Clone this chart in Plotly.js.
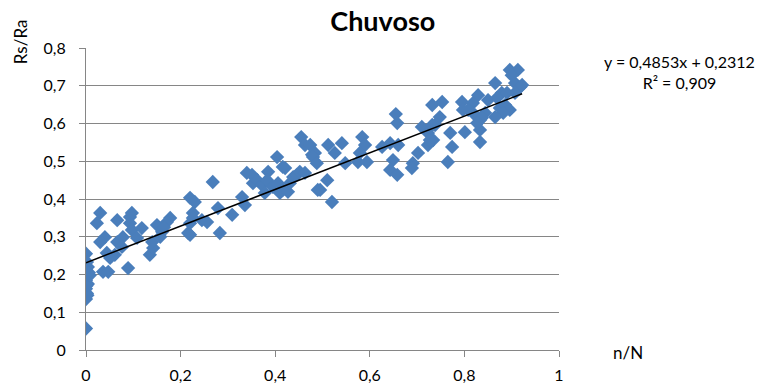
<!DOCTYPE html>
<html>
<head>
<meta charset="utf-8">
<script src="https://cdn.plot.ly/plotly-3.0.1.min.js"></script>
<style>html,body{margin:0;padding:0;background:#fff;}#chart{width:761px;height:385px;}</style>
</head>
<body>
<div id="chart"></div>
<script>
// n/N values
const nN = [
  0.000,0.000,0.002,0.000,0.004,0.000,0.008,0.000,0.004,0.000,0.002,0.006,0.001,0.003,
  0.036,0.047,0.030,0.023,0.040,0.030,0.044,0.066,0.066,0.061,0.078,0.076,0.093,0.093,0.089,0.097,
  0.108,0.118,0.135,0.142,0.140,0.150,0.161,0.178,0.171,0.051,0.097,0.157,0.165,
  0.220,0.230,0.226,0.216,0.220,0.226,0.245,0.256,0.220,0.268,0.283,0.309,0.279,
  0.330,0.336,0.340,0.351,0.353,0.362,0.372,0.385,0.383,0.378,0.395,0.406,0.410,0.421,0.416,
  0.427,0.431,0.438,0.446,0.452,0.463,0.478,0.484,0.490,0.404,0.416,
  0.455,0.463,0.474,0.480,0.488,0.512,0.541,0.526,0.548,0.584,0.590,0.579,0.575,0.594,
  0.510,0.495,0.520,0.626,0.643,0.660,0.649,0.643,0.658,0.691,0.689,0.702,0.710,0.723,
  0.734,0.723,0.738,0.658,0.655,
  0.765,0.770,0.774,0.801,0.795,0.797,0.753,0.748,0.732,0.732,0.727,0.829,0.833,0.833,
  0.833,0.844,0.865,0.850,0.869,0.879,0.875,0.886,0.896,0.896,0.913,0.907,0.918,0.907,
  0.890,0.822,0.818,0.808,0.837,0.882,0.865,0.827,0.922,0.900
];
// Rs/Ra values
const rsRa = [
  0.057,0.135,0.150,0.162,0.175,0.185,0.198,0.212,0.220,0.255,0.233,0.205,0.170,0.145,
  0.207,0.207,0.363,0.336,0.299,0.286,0.257,0.344,0.286,0.252,0.299,0.273,0.352,0.336,0.217,0.318,
  0.297,0.323,0.252,0.270,0.286,0.331,0.313,0.350,0.339,0.244,0.363,0.300,0.325,
  0.403,0.392,0.363,0.310,0.336,0.350,0.344,0.339,0.305,0.445,0.310,0.358,0.376,
  0.405,0.384,0.469,0.464,0.442,0.450,0.437,0.472,0.450,0.416,0.432,0.442,0.416,0.482,0.424,
  0.419,0.442,0.458,0.464,0.472,0.469,0.517,0.522,0.424,0.511,0.485,
  0.564,0.543,0.543,0.511,0.495,0.543,0.548,0.522,0.495,0.564,0.543,0.522,0.498,0.498,
  0.450,0.424,0.392,0.538,0.548,0.543,0.503,0.477,0.464,0.495,0.482,0.522,0.591,0.575,
  0.556,0.543,0.596,0.601,0.625,
  0.498,0.575,0.538,0.577,0.657,0.636,0.657,0.617,0.649,0.596,0.556,0.675,0.551,0.583,
  0.609,0.628,0.707,0.662,0.668,0.681,0.641,0.649,0.636,0.742,0.742,0.707,0.697,0.681,
  0.681,0.623,0.654,0.636,0.615,0.628,0.617,0.601,0.702,0.728
];
// Linear trend (as reported)
const slope = 0.4853;
const intercept = 0.2312;
const rSquared = 0.909;

const xMin = Math.min(...nN), xMax = Math.max(...nN);
const trendX = [xMin, xMax];
const trendY = trendX.map(v => slope * v + intercept);

const fmt = (v, d) => v.toFixed(d).replace('.', ',');
const eqText = 'y = ' + fmt(slope, 4) + 'x + ' + fmt(intercept, 4) + '<br>R² = ' + fmt(rSquared, 3);

const FONT = 'Lato, "Open Sans", "DejaVu Sans", sans-serif';
const GRID = '#868686';

const data = [
  {
    type: 'scatter', mode: 'markers', x: nN, y: rsRa,
    marker: {symbol: 'diamond', size: 11, color: '#4A7EBB', line: {width: 0}},
    hoverinfo: 'x+y'
  },
  {
    type: 'scatter', mode: 'lines', x: trendX, y: trendY,
    line: {color: '#000000', width: 1.5}, hoverinfo: 'skip'
  }
];

const layout = {
  width: 761, height: 385,
  margin: {l: 86, r: 202, t: 48, b: 35, pad: 0},
  paper_bgcolor: '#ffffff', plot_bgcolor: '#ffffff',
  separators: ',.',
  showlegend: false,
  font: {family: FONT, size: 16, color: '#000000'},
  title: {text: '<b>Chuvoso</b>', font: {family: FONT, size: 27, color: '#000'},
          x: 0.503, xanchor: 'center', y: 0.943, yanchor: 'middle', xref: 'container', yref: 'container'},
  xaxis: {
    range: [0, 1], dtick: 0.2, tick0: 0, showgrid: false, zeroline: false,
    showline: true, linecolor: GRID, linewidth: 1,
    ticks: 'outside', ticklen: 6, tickcolor: GRID, tickwidth: 1,
    ticklabelstandoff: 5,
    tickfont: {family: FONT, size: 16, color: '#000'}
  },
  yaxis: {
    range: [0, 0.8], dtick: 0.1, tick0: 0, showgrid: true, gridcolor: GRID, gridwidth: 1,
    zeroline: false, showline: true, linecolor: GRID, linewidth: 1,
    ticks: 'outside', ticklen: 6, tickcolor: GRID, tickwidth: 1,
    ticklabelstandoff: 10,
    tickfont: {family: FONT, size: 16, color: '#000'}
  },
  annotations: [
    {text: 'Rs/Ra', xref: 'paper', yref: 'paper', x: -0.137, y: 1.02, xanchor: 'center', yanchor: 'middle',
     textangle: -90, showarrow: false, font: {family: FONT, size: 17, color: '#000'}},
    {text: 'n/N', xref: 'paper', yref: 'paper', x: 1.145, y: -0.008, xanchor: 'center', yanchor: 'middle',
     showarrow: false, font: {family: FONT, size: 17, color: '#000'}},
    {text: eqText, xref: 'paper', yref: 'paper', x: 1.255, y: 0.92, xanchor: 'center', yanchor: 'middle',
     align: 'center', showarrow: false, font: {family: FONT, size: 16, color: '#000'}}
  ]
};

Plotly.newPlot('chart', data, layout, {displayModeBar: false, staticPlot: true});
</script>
</body>
</html>
